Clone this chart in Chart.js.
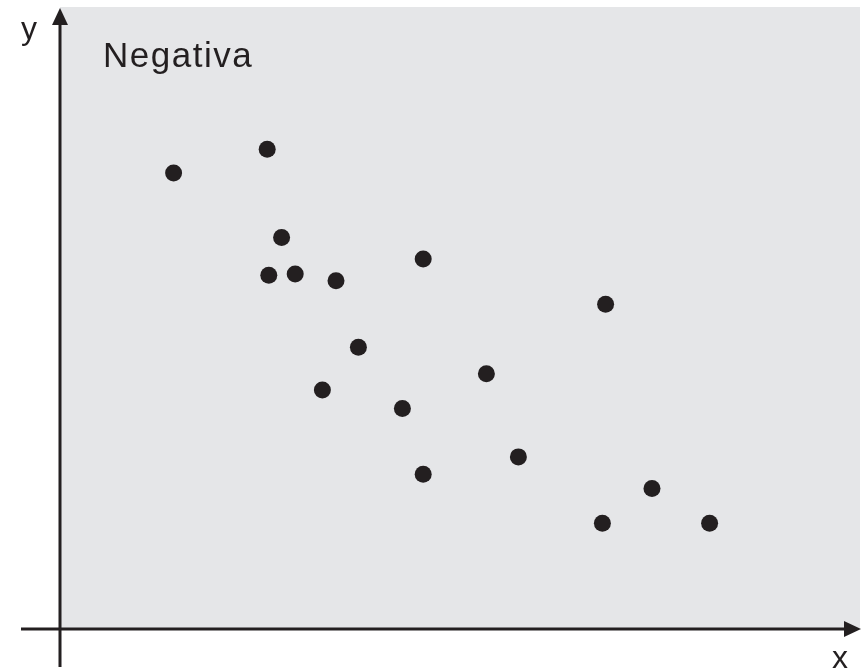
<!DOCTYPE html>
<html>
<head>
<meta charset="utf-8">
<script src="https://cdn.jsdelivr.net/npm/chart.js@4/dist/chart.umd.min.js"></script>
<style>
  html, body { margin: 0; padding: 0; background: #ffffff; overflow: hidden; }
  #wrap { width: 864px; height: 671px; position: relative; overflow: hidden; }
  canvas { display: block; }
</style>
</head>
<body>
<div id="wrap"><canvas id="c" width="864" height="671"></canvas></div>
<script>
// Data (arbitrary units 0..100 on both axes)
const xValues = [14.2, 25.9, 27.7, 26.1, 29.4, 34.5, 45.4, 68.2, 37.3, 32.8, 53.3, 42.8, 45.4, 57.3, 74.0, 67.8, 81.2];
const yValues = [73.4, 77.2, 63.0, 56.9, 57.1, 56.0, 59.5, 52.2, 45.3, 38.4, 41.0, 35.4, 24.8, 27.6, 22.5, 16.9, 16.9];
const chartLabel = "Negativa";
const xAxisLabel = "x";
const yAxisLabel = "y";

const points = xValues.map((x, i) => ({ x: x, y: yValues[i] }));
const ink = "#231f20";

const decor = {
  id: "decor",
  beforeDraw(chart) {
    const ctx = chart.ctx;
    const a = chart.chartArea;
    ctx.save();
    ctx.fillStyle = "#e5e6e8";
    ctx.fillRect(a.left, a.top - 1, a.right - a.left, a.bottom - a.top + 1);
    ctx.restore();
  },
  afterDraw(chart) {
    const ctx = chart.ctx;
    const a = chart.chartArea;
    const ax = a.left;        // y axis x position
    const ay = a.bottom + 1;  // x axis y position
    ctx.save();
    ctx.strokeStyle = ink;
    ctx.fillStyle = ink;
    ctx.lineWidth = 3;
    // x axis
    ctx.beginPath();
    ctx.moveTo(21, ay);
    ctx.lineTo(a.right - 14, ay);
    ctx.stroke();
    ctx.beginPath();
    ctx.moveTo(a.right + 1, ay);
    ctx.lineTo(a.right - 16, ay - 8);
    ctx.lineTo(a.right - 16, ay + 8);
    ctx.closePath();
    ctx.fill();
    // y axis
    ctx.beginPath();
    ctx.moveTo(ax, 667);
    ctx.lineTo(ax, a.top + 13);
    ctx.stroke();
    ctx.beginPath();
    ctx.moveTo(ax, a.top);
    ctx.lineTo(ax - 8, a.top + 17);
    ctx.lineTo(ax + 8, a.top + 17);
    ctx.closePath();
    ctx.fill();
    // texts
    ctx.textBaseline = "alphabetic";
    ctx.textAlign = "left";
    ctx.font = "32px 'Liberation Sans', Arial, sans-serif";
    ctx.fillText(yAxisLabel, 21, 39);
    ctx.fillText(xAxisLabel, 832, 668);
    ctx.font = "35px 'Liberation Sans', Arial, sans-serif";
    try { ctx.letterSpacing = "1.5px"; } catch (e) {}
    ctx.fillText(chartLabel, 103, 67);
    ctx.restore();
  }
};

new Chart(document.getElementById("c"), {
  type: "scatter",
  data: {
    datasets: [{
      label: chartLabel,
      data: points,
      backgroundColor: ink,
      borderColor: ink,
      borderWidth: 0,
      pointRadius: 8.5,
      pointHoverRadius: 8.5,
      clip: false
    }]
  },
  options: {
    responsive: false,
    animation: false,
    devicePixelRatio: 1,
    layout: { autoPadding: false, padding: { left: 60, right: 4, top: 8, bottom: 43 } },
    plugins: { legend: { display: false }, tooltip: { enabled: false }, title: { display: false } },
    scales: {
      x: { type: "linear", min: 0, max: 100, display: false },
      y: { type: "linear", min: 0, max: 100, display: false }
    }
  },
  plugins: [decor]
});
</script>
</body>
</html>
